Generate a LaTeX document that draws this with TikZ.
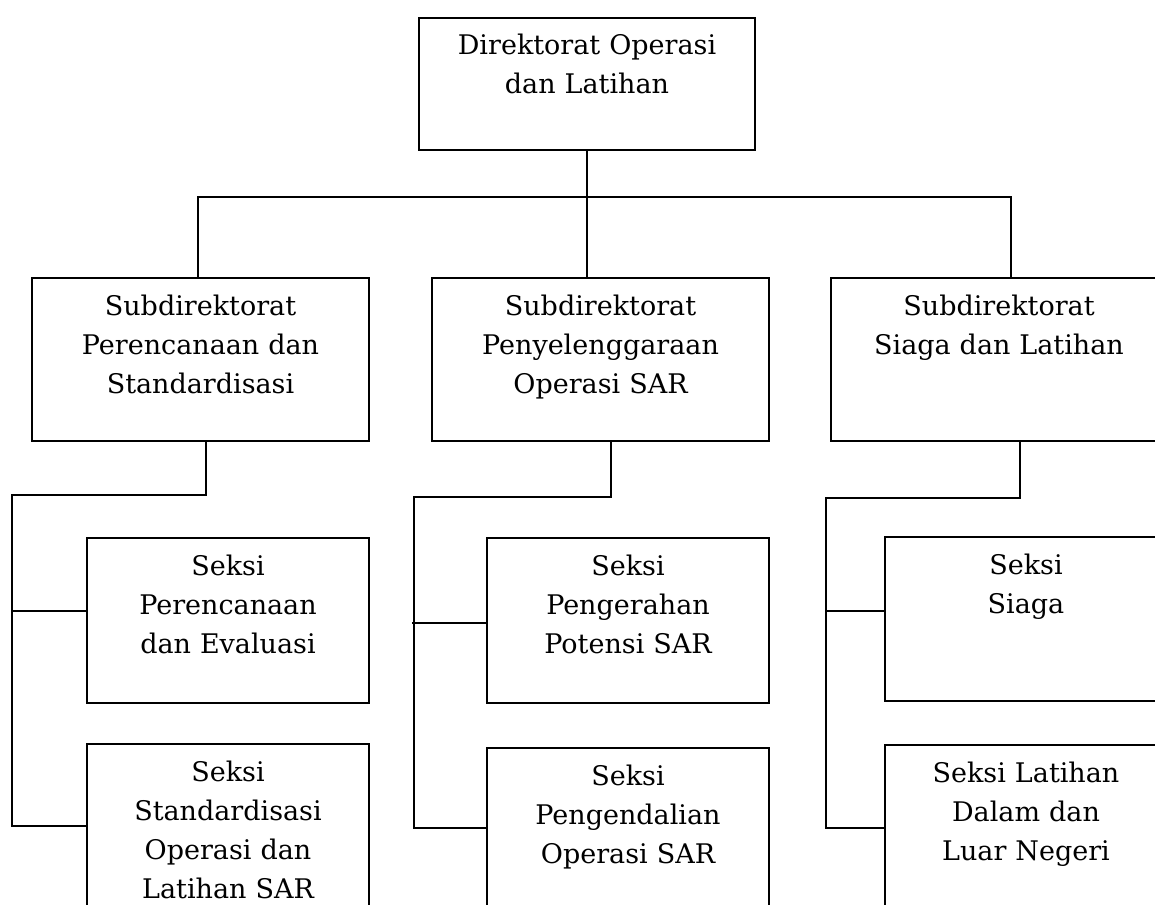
\documentclass[tikz,border=0pt]{standalone}
\usepackage{fontspec}
\setmainfont{DejaVu Serif}
\begin{document}
\begin{tikzpicture}[x=1pt,y=-1pt,
  orgbox/.style={draw, line width=2pt, inner sep=0pt, align=center,
    anchor=north west, text height=37pt, font=\fontsize{27}{39}\selectfont},
  wide/.style={text width=336pt},
  narrow/.style={text width=282pt},
  link/.style={line width=2pt}]
\path[use as bounding box, fill=white] (0,0) rectangle (1155,904);
\clip (0,0) rectangle (1155,904);

\node[orgbox, wide, text depth=95pt] (top) at (418,17) {Direktorat Operasi\\dan Latihan};

\node[orgbox, wide, text width=337pt, text depth=126pt] (s1) at (31,277) {Subdirektorat\\Perencanaan dan\\Standardisasi};
\node[orgbox, wide, text width=337pt, text depth=126pt] (s2) at (431,277) {Subdirektorat\\Penyelenggaraan\\Operasi SAR};
\node[orgbox, wide, text depth=126pt] (s3) at (830,277) {Subdirektorat\\Siaga dan Latihan};

\node[orgbox, narrow, text depth=128pt] (l1) at (86,537) {Seksi\\Perencanaan\\dan Evaluasi};
\node[orgbox, narrow, text depth=133pt] (l2) at (86,743) {Seksi\\Standardisasi\\Operasi dan\\Latihan SAR};
\node[orgbox, narrow, text depth=128pt] (m1) at (486,537) {Seksi\\Pengerahan\\Potensi SAR};
\node[orgbox, narrow, text depth=133pt] (m2) at (486,747) {Seksi\\Pengendalian\\Operasi SAR};
\node[orgbox, narrow, text depth=127pt] (r1) at (884,536) {Seksi\\Siaga};
\node[orgbox, narrow, text depth=133pt] (r2) at (884,744) {Seksi Latihan\\Dalam dan\\Luar Negeri};

% top level
\coordinate (busL) at (198,197);
\coordinate (busR) at (1011,197);
\draw[link] (top.south) -- (top.south |- s2.north);
\draw[link] (busL |- s1.north) -- (busL) -- (busR) -- (busR |- s3.north);

% left column
\coordinate (kL) at (206,495);
\coordinate (tL) at (12,495);
\coordinate (jL1) at (12,611);
\coordinate (jL2) at (12,826);
\draw[link] (kL |- s1.south) -- (kL) -- (tL) -- (jL2) -- (jL2 -| l2.west);
\draw[link] (jL1) -- (jL1 -| l1.west);

% middle column
\coordinate (kM) at (611,497);
\coordinate (tM) at (414,497);
\coordinate (jM1) at (412,623);
\coordinate (jM2) at (414,828);
\draw[link] (kM |- s2.south) -- (kM) -- (tM) -- (jM2) -- ([xshift=2pt]jM2 -| m2.west);
\draw[link] (jM1) -- (jM1 -| m1.west);

% right column
\coordinate (kR) at (1020,498);
\coordinate (tR) at (826,498);
\coordinate (jR1) at (826,611);
\coordinate (jR2) at (826,828);
\draw[link] (kR |- s3.south) -- (kR) -- (tR) -- (jR2) -- (jR2 -| r2.west);
\draw[link] (jR1) -- (jR1 -| r1.west);
\end{tikzpicture}
\end{document}
